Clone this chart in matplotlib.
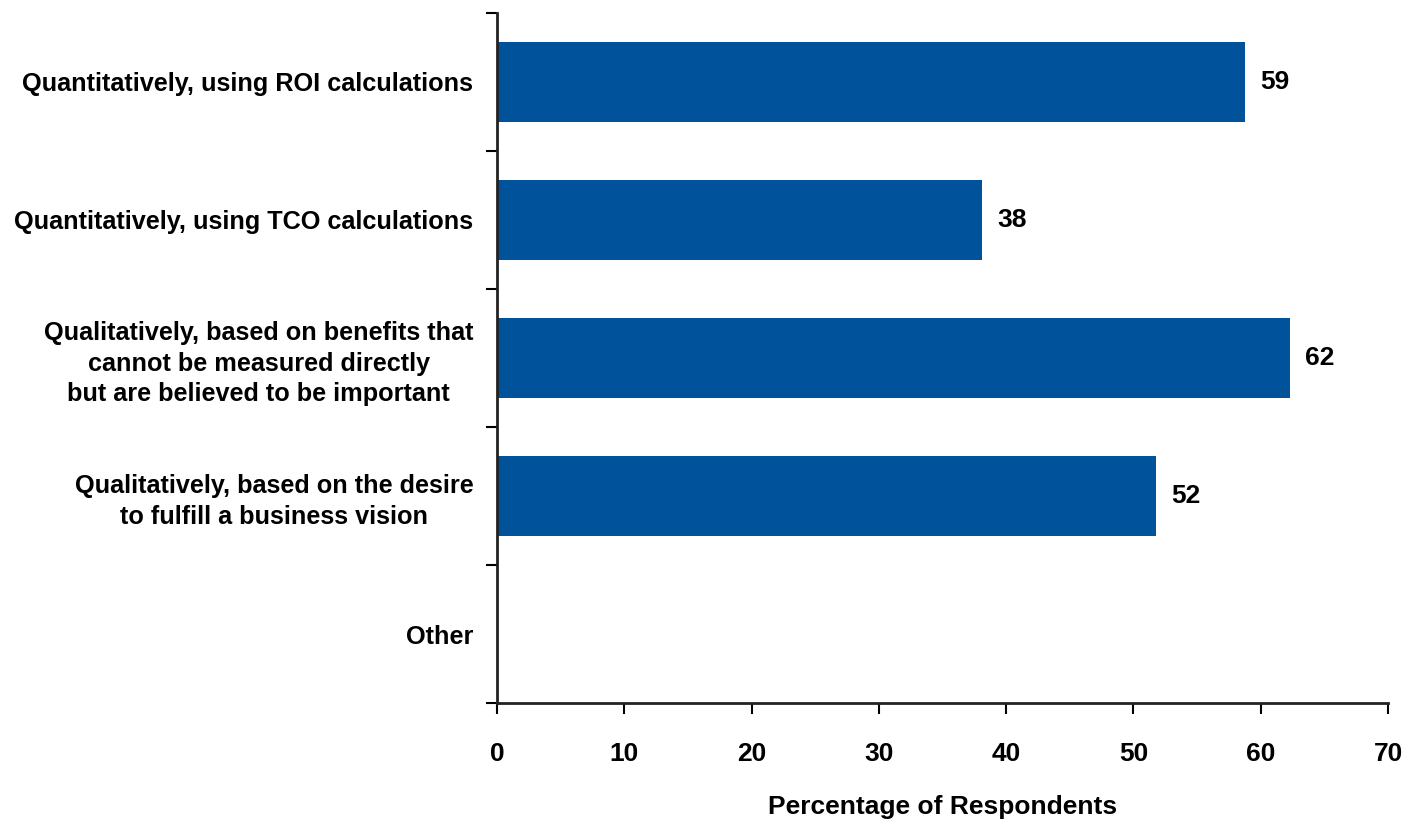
import matplotlib
matplotlib.use("Agg")
import matplotlib.pyplot as plt
from matplotlib.ticker import FixedLocator, NullFormatter

categories = [
    "Quantitatively, using ROI calculations",
    "Quantitatively, using TCO calculations",
    "Qualitatively, based on benefits that\ncannot be measured directly\nbut are believed to be important",
    "Qualitatively, based on the desire\nto fulfill a business vision",
    "Other",
]
values = [58.8, 38.1, 62.3, 51.8, None]
value_labels = ["59", "38", "62", "52", ""]
x_ticks = [0, 10, 20, 30, 40, 50, 60, 70]

FONT = ["Liberation Sans Narrow", "Liberation Sans", "DejaVu Sans"]
plt.rcParams["font.family"] = FONT

fig = plt.figure(figsize=(14.11, 8.26), dpi=100)
ax = fig.add_axes([0.3522, 0.1489, 0.6315, 0.8354])

color = "#00529B"
n = len(categories)
ypos = list(range(n))
for y, v, lab in zip(ypos, values, value_labels):
    if v is None:
        continue
    ax.barh(y, v, height=0.58, color=color)
    ax.text(v + 1.2, y, lab, va="center", ha="left", fontsize=19, fontweight="bold", color="black")

ax.set_ylim(n - 0.5, -0.5)
ax.set_xlim(0, 70)
ax.set_yticks(ypos)
ax.set_yticklabels(categories, fontsize=18.2, fontweight="bold", ha="right",
                   multialignment="center", linespacing=1.35)
ax.tick_params(axis="y", which="major", length=0, pad=17)
ax.yaxis.set_minor_locator(FixedLocator([i - 0.5 for i in range(n + 1)]))
ax.yaxis.set_minor_formatter(NullFormatter())
ax.tick_params(axis="y", which="minor", length=8, width=1.5, direction="out")

ax.set_xticks(x_ticks)
ax.set_xticklabels([str(t) for t in x_ticks], fontsize=19, fontweight="bold")
ax.tick_params(axis="x", length=8, width=1.5, direction="out", pad=20)

for s in ["top", "right"]:
    ax.spines[s].set_visible(False)
for s in ["left", "bottom"]:
    ax.spines[s].set_linewidth(2)
    ax.spines[s].set_color("#222222")

ax.set_xlabel("Percentage of Respondents", fontsize=19, fontweight="bold", labelpad=21)

fig.savefig("out.png", dpi=100)
